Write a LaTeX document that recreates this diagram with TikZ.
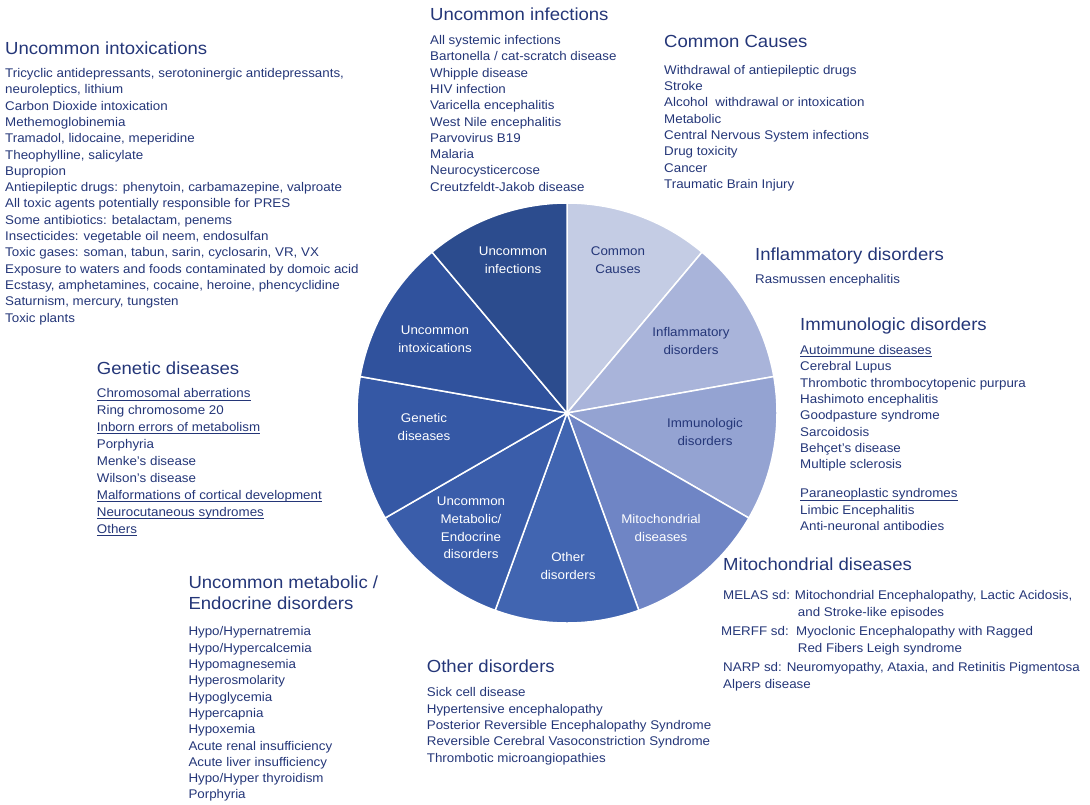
\documentclass[tikz,border=0pt]{standalone}
\usepackage{fontspec}
\setmainfont{Liberation Sans}[FakeStretch=1.06]
\usepackage{xcolor}
\usetikzlibrary{positioning}

\definecolor{navy}{RGB}{36,54,120}
\definecolor{wedgeA}{RGB}{196,204,228}
\definecolor{wedgeB}{RGB}{169,180,218}
\definecolor{wedgeC}{RGB}{148,163,210}
\definecolor{wedgeD}{RGB}{111,133,197}
\definecolor{wedgeE}{RGB}{65,101,177}
\definecolor{wedgeF}{RGB}{58,93,170}
\definecolor{wedgeG}{RGB}{53,88,165}
\definecolor{wedgeH}{RGB}{48,82,157}
\definecolor{wedgeI}{RGB}{44,76,142}

\newcommand{\hd}{\fontsize{17.5}{21}\selectfont}
\newcommand{\bd}{\fontsize{12.6}{16.3}\selectfont}
\newcommand{\fst}{\rule{0pt}{10pt}}
% underlined sub-heading
\newcommand{\uln}[1]{\setbox0\hbox{#1}\rlap{\rule[-2.3pt]{\wd0}{0.7pt}}\box0}

\begin{document}
\begin{tikzpicture}[x=1pt, y=1pt, text=navy,
  head/.style={anchor=base west, inner sep=0pt, align=left, font=\hd},
  items/.style={anchor=north west, inner sep=0pt, align=left, font=\bd},
  wedge/.style={draw=white, line width=1.5pt},
  inlabel/.style={align=center, inner sep=0pt, font=\fontsize{12.6}{17.7}\selectfont}]
\useasboundingbox (0,0) rectangle (1090,-804);
\coordinate (O) at (567,-413);

% pie, clockwise from the top
\foreach \a/\c in {90/wedgeA, 50/wedgeB, 10/wedgeC, -30/wedgeD, -70/wedgeE,
                   -110/wedgeF, -150/wedgeG, -190/wedgeH, -230/wedgeI}
  \filldraw[wedge, fill=\c] (O) -- ++(\a:210) arc[start angle=\a, end angle=\a-40, radius=210] -- cycle;

\node[inlabel] (lbCom) at (618,-260) {Common\\Causes};
\node[inlabel] (lbInfl) at (691,-341) {Inflammatory\\disorders};
\node[inlabel] (lbImm) at (705,-432) {Immunologic\\disorders};
\node[inlabel, text=white] (lbMito) at (661,-528) {Mitochondrial\\diseases};
\node[inlabel, text=white] (lbOth) at (568,-566) {Other\\disorders};
\node[inlabel, text=white] (lbMet) at (471,-528) {Uncommon\\Metabolic/\\Endocrine\\disorders};
\node[inlabel, text=white] (lbGen) at (424,-427) {Genetic\\diseases};
\node[inlabel, text=white] (lbInt) at (435,-339) {Uncommon\\intoxications};
\node[inlabel, text=white] (lbInf) at (513,-260) {Uncommon\\infections};

% uncommon intoxications
\node[head] (hdInt) at (5,-54) {Uncommon intoxications};
\node[items, below right=13.3pt and 0pt of hdInt.base west] (lsInt) {\fst Tricyclic antidepressants, serotoninergic antidepressants,\\
  neuroleptics, lithium\\
  Carbon Dioxide intoxication\\
  Methemoglobinemia\\
  Tramadol, lidocaine, meperidine\\
  Theophylline, salicylate\\
  Bupropion\\
  Antiepileptic drugs: phenytoin, carbamazepine, valproate\\
  All toxic agents potentially responsible for PRES\\
  Some antibiotics: betalactam, penems\\
  Insecticides: vegetable oil neem, endosulfan\\
  Toxic gases: soman, tabun, sarin, cyclosarin, VR, VX\\
  Exposure to waters and foods contaminated by domoic acid\\
  Ecstasy, amphetamines, cocaine, heroine, phencyclidine\\
  Saturnism, mercury, tungsten\\
  Toxic plants};

% uncommon infections
\node[head] (hdInf) at (430,-20) {Uncommon infections};
\node[items, below right=14.3pt and 0pt of hdInf.base west] (lsInf) {\fst All systemic infections\\
  Bartonella / cat-scratch disease\\
  Whipple disease\\
  HIV infection\\
  Varicella encephalitis\\
  West Nile encephalitis\\
  Parvovirus B19\\
  Malaria\\
  Neurocysticercose\\
  Creutzfeldt-Jakob disease};

% common causes
\node[head] (hdCom) at (664,-47.3) {Common Causes};
\node[items, below right=16.7pt and 0pt of hdCom.base west] (lsCom) {\fst Withdrawal of antiepileptic drugs\\
  Stroke\\
  Alcohol\ \ withdrawal or intoxication\\
  Metabolic\\
  Central Nervous System infections\\
  Drug toxicity\\
  Cancer\\
  Traumatic Brain Injury};

% inflammatory disorders
\node[head] (hdInfl) at (755,-260.7) {Inflammatory disorders};
\node[items, below right=12.6pt and 0pt of hdInfl.base west] (lsInfl) {\fst Rasmussen encephalitis};

% immunologic disorders
\node[head] (hdImm) at (800,-330.7) {Immunologic disorders};
\node[items, below right=13.6pt and 0pt of hdImm.base west] (lsImm) {\fst \uln{Autoimmune diseases}\\
  Cerebral Lupus\\
  Thrombotic thrombocytopenic purpura\\
  Hashimoto encephalitis\\
  Goodpasture syndrome\\
  Sarcoidosis\\
  Behçet’s disease\\
  Multiple sclerosis\\[13pt]
  \uln{Paraneoplastic syndromes}\\
  Limbic Encephalitis\\
  Anti-neuronal antibodies};

% mitochondrial diseases
\node[head] (hdMito) at (723,-570.7) {Mitochondrial diseases};
\node[items, below right=18.6pt and 0pt of hdMito.base west] (lsMito) {\fst MELAS sd: Mitochondrial Encephalopathy, Lactic Acidosis,\\[0.8pt]
  \hspace*{74.7pt}and Stroke-like episodes\\[2.5pt]
  \hspace*{-2pt}MERFF sd:\ \ Myoclonic Encephalopathy with Ragged\\[0.8pt]
  \hspace*{74.7pt}Red Fibers Leigh syndrome\\[2.5pt]
  NARP sd: Neuromyopathy, Ataxia, and Retinitis Pigmentosa\\[0.8pt]
  Alpers disease};

% other disorders
\node[head] (hdOth) at (426.7,-672) {Other disorders};
\node[items, below right=14.7pt and 0pt of hdOth.base west] (lsOth) {\fst Sick cell disease\\
  Hypertensive encephalopathy\\
  Posterior Reversible Encephalopathy Syndrome\\
  Reversible Cerebral Vasoconstriction Syndrome\\
  Thrombotic microangiopathies};

% uncommon metabolic / endocrine disorders
\node[head, anchor=north west] (hdMet) at (188.3,-575.5) {Uncommon metabolic /\\Endocrine disorders};
\node[items, below right=50.2pt and 0pt of hdMet.north west] (lsMet) {\fst Hypo/Hypernatremia\\
  Hypo/Hypercalcemia\\
  Hypomagnesemia\\
  Hyperosmolarity\\
  Hypoglycemia\\
  Hypercapnia\\
  Hypoxemia\\
  Acute renal insufficiency\\
  Acute liver insufficiency\\
  Hypo/Hyper thyroidism\\
  Porphyria};

% genetic diseases
\node[head] (hdGen) at (96.7,-374) {Genetic diseases};
\node[items, font=\fontsize{12.6}{16.9}\selectfont, below right=13.7pt and 0pt of hdGen.base west] (lsGen) {\fst \uln{Chromosomal aberrations}\\
  Ring chromosome 20\\
  \uln{Inborn errors of metabolism}\\
  Porphyria\\
  Menke’s disease\\
  Wilson’s disease\\
  \uln{Malformations of cortical development}\\
  \uln{Neurocutaneous syndromes}\\
  \uln{Others}};
\end{tikzpicture}
\end{document}
